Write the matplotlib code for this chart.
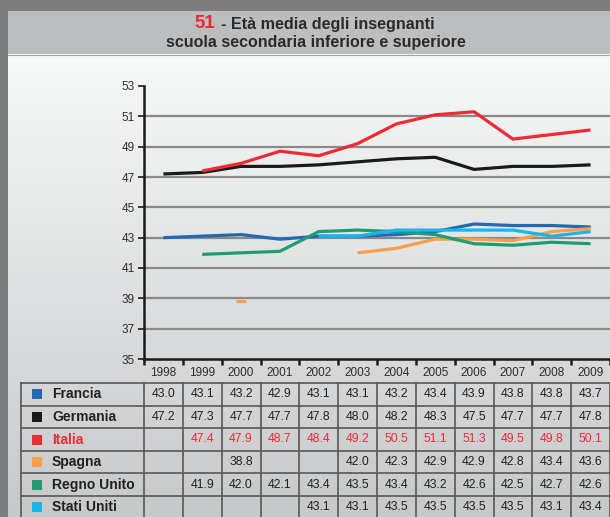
import numpy as np
import matplotlib.pyplot as plt
from matplotlib.patches import Rectangle
from matplotlib.colors import to_rgb
from matplotlib.transforms import blended_transform_factory

plt.rcParams['font.family'] = ['Liberation Sans', 'DejaVu Sans']

# Data
years = ['1998', '1999', '2000', '2001', '2002', '2003',
         '2004', '2005', '2006', '2007', '2008', '2009']
countries = ['Francia', 'Germania', 'Italia', 'Spagna', 'Regno Unito', 'Stati Uniti']
francia = [43.0, 43.1, 43.2, 42.9, 43.1, 43.1, 43.2, 43.4, 43.9, 43.8, 43.8, 43.7]
germania = [47.2, 47.3, 47.7, 47.7, 47.8, 48.0, 48.2, 48.3, 47.5, 47.7, 47.7, 47.8]
italia = [None, 47.4, 47.9, 48.7, 48.4, 49.2, 50.5, 51.1, 51.3, 49.5, 49.8, 50.1]
spagna = [None, None, 38.8, None, None, 42.0, 42.3, 42.9, 42.9, 42.8, 43.4, 43.6]
regno_unito = [None, 41.9, 42.0, 42.1, 43.4, 43.5, 43.4, 43.2, 42.6, 42.5, 42.7, 42.6]
stati_uniti = [None, None, None, None, 43.1, 43.1, 43.5, 43.5, 43.5, 43.5, 43.1, 43.4]
colors = ['#2468b2', '#1a1a1a', '#ee2a35', '#f7a04a', '#1f9c72', '#1db4ea']
all_values = [francia, germania, italia, spagna, regno_unito, stati_uniti]

W, H = 610, 517
fig = plt.figure(figsize=(W / 100, H / 100), dpi=100, facecolor='#7d7d7d')

# background layer in pixel coordinates
bg = fig.add_axes([0, 0, 1, 1])
top = np.array(to_rgb('#f7f8f8'))
bottom = np.array(to_rgb('#c7c8ca'))
t = np.linspace(0, 1, 256)[:, None]
grad = (top + (bottom - top) * t)[:, None, :]
bg.imshow(grad, extent=[8, W, H, 54], aspect='auto', interpolation='bilinear')
bg.add_patch(Rectangle((8, 11), W - 8, 43, color='#bcbdbf', lw=0))
bg.plot([8, W], [54.5, 54.5], color='#a4a5a7', lw=0.8)

# title
bg.text(215, 28.5, '51', color='#ee2a35', fontsize=13.5, fontweight='bold',
        ha='right', va='baseline')
bg.text(221, 28.5, '- Età media degli insegnanti', color='#2b2b2b', fontsize=11.6,
        fontweight='bold', ha='left', va='baseline')
bg.text(316, 47.5, 'scuola secondaria inferiore e superiore', color='#2b2b2b',
        fontsize=11.5, fontweight='bold', ha='center', va='baseline')

# chart
ax = fig.add_axes([144 / W, (H - 359) / H, (W - 144) / W, (359 - 86) / H])
ax.set_facecolor('none')
x = np.arange(len(years))
for name, vals, col in zip(countries, all_values, colors):
    y = np.array(vals, dtype=float)
    ax.plot(x, y, color=col, lw=2.3, solid_capstyle='butt', solid_joinstyle='miter', zorder=3)
    ok = ~np.isnan(y)
    for i in range(len(y)):
        left = i > 0 and ok[i - 1]
        right = i < len(y) - 1 and ok[i + 1]
        if ok[i] and not left and not right:
            ax.plot(x[i], y[i], marker='_', ms=6.5, mew=2.3, color=col, zorder=3)

for g in range(37, 53, 2):
    ax.axhline(g, color='#8a8a8a', lw=1.6, zorder=1)

ax.set_xlim(-0.5, 11.5)
ax.set_ylim(35, 53)
ax.set_yticks(range(35, 54, 2))
ax.set_xticks(x)
ax.set_xticklabels(years)
ax.set_xticks(np.arange(-0.5, 12, 1), minor=True)
ax.tick_params(axis='x', which='major', length=0, pad=6, labelsize=8.5, labelcolor='#2e2e2e')
ax.tick_params(axis='x', which='minor', direction='out', length=4, width=1.8, color='#1a1a1a')
ax.tick_params(axis='y', direction='out', length=4.5, width=1.2, pad=2,
               labelsize=8.5, labelcolor='#2e2e2e', color='#1a1a1a')
for s in ['top', 'right']:
    ax.spines[s].set_visible(False)
for s in ['left', 'bottom']:
    ax.spines[s].set_linewidth(1.8)
    ax.spines[s].set_color('#1a1a1a')

# table under the chart: columns follow the chart's x scale, rows in pixels
trans = blended_transform_factory(ax.transData, bg.transData)
row_top = 383
row_h = 22.6
line_col = '#585858'
for r in range(len(countries) + 1):
    yy = row_top + r * row_h
    bg.plot([21, W], [yy, yy], color=line_col, lw=1.2)
bg.plot([21, 21], [row_top, H + 5], color=line_col, lw=1.2)
for e in np.arange(-0.5, 12, 1):
    bg.plot([e, e], [row_top, H + 5], color=line_col, lw=1.2, transform=trans)

for r, (name, vals, col) in enumerate(zip(countries, all_values, colors)):
    ym = row_top + (r + 0.5) * row_h
    text_col = '#ee2a35' if name == 'Italia' else '#222222'
    bg.add_patch(Rectangle((32, ym - 5), 10, 10, color=col, lw=0))
    bg.text(52, ym, name, fontsize=10, fontweight='bold', color=text_col,
            ha='left', va='center')
    for c, v in enumerate(vals):
        if v is None:
            continue
        bg.text(c, ym, f'{v:.1f}', fontsize=8.8, color=text_col,
                ha='center', va='center', transform=trans)

bg.set_xlim(0, W)
bg.set_ylim(H, 0)
bg.axis('off')

fig.savefig('out.png', dpi=100, facecolor=fig.get_facecolor())
